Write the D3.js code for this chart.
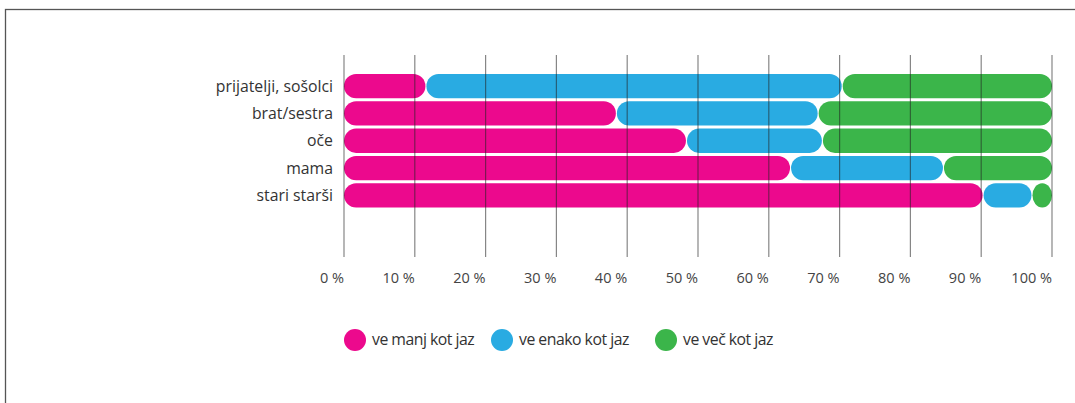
<!DOCTYPE html>
<html>
<head>
<meta charset="utf-8">
<script src="https://cdn.jsdelivr.net/npm/d3@7"></script>
<style>
  body { margin: 0; background: #fff; }
  svg { display: block; font-family: "Open Sans", sans-serif; }
</style>
</head>
<body>
<div id="chart"></div>
<script>
// Data (shares in %)
const categories = ["prijatelji, sošolci", "brat/sestra", "oče", "mama", "stari starši"];
const seriesNames = ["ve manj kot jaz", "ve enako kot jaz", "ve več kot jaz"];
const lessValues = [11.5, 38.4, 48.3, 63.0, 90.2];
const sameValues = [58.8, 28.5, 19.2, 21.6, 6.9];
const moreValues = [29.7, 33.1, 32.5, 15.4, 2.9];
const tickValues = [0, 10, 20, 30, 40, 50, 60, 70, 80, 90, 100];

const colors = ["#EC098D", "#29ABE2", "#3BB54A"];

const width = 1075, height = 403;
const svg = d3.select("#chart").append("svg")
  .attr("width", width)
  .attr("height", height);

// frame
svg.append("rect")
  .attr("x", 5.5).attr("y", 9.5)
  .attr("width", width + 10).attr("height", height + 10)
  .attr("fill", "none")
  .attr("stroke", "#555")
  .attr("stroke-width", 1.3);

const x = d3.scaleLinear().domain([0, 100]).range([344, 1052]);
const y = d3.scaleBand().domain(categories).range([74, 207.5]).paddingInner(0.11).paddingOuter(0);

// build stacked rows
const rows = categories.map((c, i) => ({ cat: c, less: lessValues[i], same: sameValues[i], more: moreValues[i] }));
const stack = d3.stack().keys(["less", "same", "more"])(rows);

const barH = y.bandwidth();
const gap = 1;

stack.forEach((layer, k) => {
  svg.append("g").selectAll("rect")
    .data(layer)
    .enter().append("rect")
    .attr("x", d => x(d[0]) + (k > 0 ? gap : 0))
    .attr("y", d => y(d.data.cat))
    .attr("width", d => Math.max(0, x(d[1]) - x(d[0]) - (k > 0 ? gap : 0)))
    .attr("height", barH)
    .attr("rx", d => Math.min(barH / 2, (x(d[1]) - x(d[0]) - gap) / 2))
    .attr("ry", barH / 2)
    .attr("fill", colors[k]);
});

// gridlines on top of bars
svg.append("g").selectAll("line")
  .data(tickValues)
  .enter().append("line")
  .attr("x1", d => x(d)).attr("x2", d => x(d))
  .attr("y1", 55).attr("y2", 257)
  .attr("stroke", "#222")
  .attr("stroke-opacity", 0.55)
  .attr("stroke-width", 1.2);

// tick labels, right-aligned to the gridline
svg.append("g").selectAll("text")
  .data(tickValues)
  .enter().append("text")
  .attr("x", d => x(d))
  .attr("y", 283)
  .attr("text-anchor", "end")
  .attr("fill", "#444")
  .attr("font-size", 14.5)
  .text(d => d + " %");

// category labels
svg.append("g").selectAll("text")
  .data(categories)
  .enter().append("text")
  .attr("x", 333)
  .attr("y", d => y(d) + barH / 2)
  .attr("dy", "0.35em")
  .attr("text-anchor", "end")
  .attr("fill", "#333")
  .attr("font-size", 15.8)
  .text(d => d);

// legend
const legendX = [355, 502, 666];
const legend = svg.append("g").selectAll("g")
  .data(seriesNames)
  .enter().append("g")
  .attr("transform", (d, i) => `translate(${legendX[i]},340)`);
legend.append("circle")
  .attr("r", 11)
  .attr("fill", (d, i) => colors[i]);
legend.append("text")
  .attr("x", 17)
  .attr("dy", "0.32em")
  .attr("fill", "#333")
  .attr("font-size", 15.8)
  .attr("letter-spacing", -0.5)
  .text(d => d);
</script>
</body>
</html>
